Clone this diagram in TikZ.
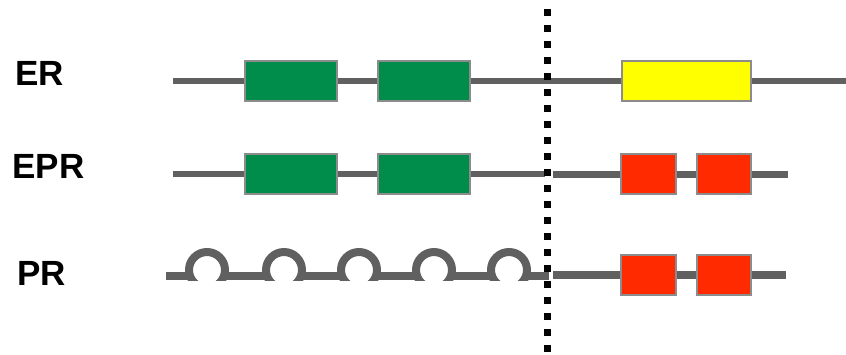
\documentclass[tikz,border=0pt]{standalone}
\usepackage{fontspec}
\setmainfont{Liberation Sans}

\definecolor{strandgray}{HTML}{606060}
\definecolor{framegray}{HTML}{8C8C8C}
\definecolor{exongreen}{HTML}{008C4A}
\definecolor{exonyellow}{HTML}{FFFF00}
\definecolor{exonred}{HTML}{FF2A00}

\tikzset{
    exon/.style={draw=framegray, line width=1pt, minimum height=20pt, inner sep=0pt},
    strand/.style={draw=strandgray, line width=2.6pt},
    rowname/.style={font=\bfseries\fontsize{17.5}{17.5}\selectfont, anchor=base west, inner sep=0pt},
}

\begin{document}
\begin{tikzpicture}[x=0.5pt, y=-0.5pt]
    \useasboundingbox (0, 0) rectangle (846, 354);

    % row names
    \node[rowname] (er) at (15, 85) {ER};
    \node[rowname] (epr) at (12, 178) {EPR};
    \node[rowname] (pr) at (17, 285) {PR};

    % ER
    \node[exon, fill=exongreen, minimum width=46pt] (er1) at (291, 81) {};
    \node[exon, fill=exongreen, minimum width=46pt] (er2) at (424, 81) {};
    \node[exon, fill=exonyellow, minimum width=64.5pt] (er3) at (686, 81) {};
    \coordinate (erl) at (173, 81);
    \coordinate (err) at (846, 81);
    \draw[strand] (erl) -- (er1.west) (er1.east) -- (er2.west) (er2.east) -- (er3.west) (er3.east) -- (err);

    % EPR
    \node[exon, fill=exongreen, minimum width=46pt] (epr1) at (291, 174) {};
    \node[exon, fill=exongreen, minimum width=46pt] (epr2) at (424, 174) {};
    \node[exon, fill=exonred, minimum width=27.5pt] (epr3) at (648, 174) {};
    \node[exon, fill=exonred, minimum width=27pt] (epr4) at (724, 174) {};
    \coordinate (eprl) at (173, 174);
    \coordinate (eprm) at (545, 174);
    \coordinate (eprn) at (553, 174);
    \coordinate (eprr) at (788, 174);
    \draw[strand] (eprl) -- (epr1.west) (epr1.east) -- (epr2.west) (epr2.east) -- (eprm);
    \draw[strand, line width=3.5pt] (eprn) -- (epr3.west) (epr3.east) -- (epr4.west) (epr4.east) -- (eprr);

    % PR
    \node[exon, fill=exonred, minimum width=27.5pt] (pr1) at (648, 275) {};
    \node[exon, fill=exonred, minimum width=27pt] (pr2) at (724, 275) {};
    \coordinate (prn) at (553, 275);
    \coordinate (prr) at (786, 275);
    \draw[strand, line width=4pt] (prn) -- (pr1.west) (pr1.east) -- (pr2.west) (pr2.east) -- (prr);
    \begin{scope}
        \clip (0, 0) rectangle (846, 280);
        \foreach \x [remember=\x as \lastx (initially 148)] in {207, 284, 359, 434, 509} {
            \draw[strand, line width=4pt] (\lastx+18, 276) -- (\x-18, 276);
            \draw[strand, line width=4pt] (\x, 270) circle[radius=9pt];
        }
    \end{scope}
    \draw[strand, line width=4pt] (527, 276) -- (549, 276);

    % dotted divider
    \coordinate (top) at (547, 9);
    \coordinate (bottom) at (547, 354);
    \draw[line width=3.5pt, dash pattern=on 3.5pt off 4.5pt] (top) -- (bottom);
\end{tikzpicture}
\end{document}
